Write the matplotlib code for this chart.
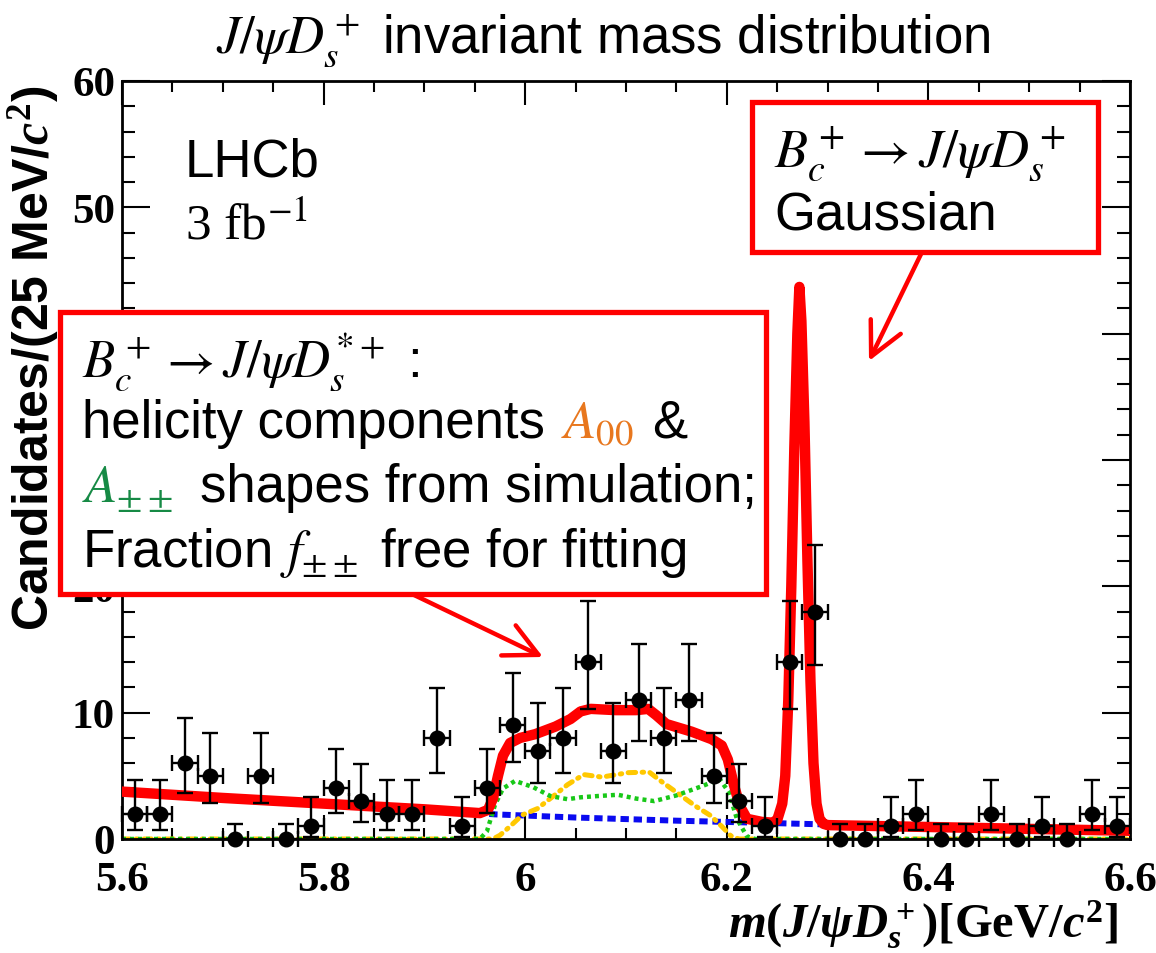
import numpy as np
import matplotlib
matplotlib.use("Agg")
import matplotlib.pyplot as plt
from matplotlib.patches import Rectangle, FancyArrowPatch
from matplotlib.ticker import MultipleLocator

# =========================================================
# Data
# =========================================================

mass_lo, mass_hi, bin_width = 5.6, 6.6, 0.025

counts = [2, 2, 6, 5, 0, 5, 0, 1, 4, 3,
          2, 2, 8, 1, 4, 9, 7, 8, 14, 7,
          11, 8, 11, 5, 3, 1, 14, 18, 0, 0,
          1, 2, 0, 0, 2, 0, 1, 0, 2, 1]

err_lo = [1.29, 1.29, 2.38, 2.16, 0, 2.16, 0, 0.83, 1.91, 1.63,
          1.29, 1.29, 2.77, 0.83, 1.91, 2.94, 2.58, 2.77, 3.70, 2.58,
          3.27, 2.77, 3.27, 2.16, 1.63, 0.83, 3.70, 4.21, 0, 0,
          0.83, 1.29, 0, 0, 1.29, 0, 0.83, 0, 1.29, 0.83]

err_hi = [2.64, 2.64, 3.58, 3.38, 1.15, 3.38, 1.15, 2.30, 3.16, 2.92,
          2.64, 2.64, 3.95, 2.30, 3.16, 4.11, 3.77, 3.95, 4.83, 3.77,
          4.42, 3.95, 4.42, 3.38, 2.92, 2.30, 4.83, 5.31, 1.15, 1.15,
          2.30, 2.64, 1.15, 1.15, 2.64, 1.15, 2.30, 1.15, 2.64, 2.30]

# total fit
fit_x = [5.600, 5.700, 5.800, 5.900, 5.955, 5.963, 5.968, 5.973, 5.978, 5.985,
         5.995, 6.010, 6.030, 6.045, 6.055, 6.065, 6.090, 6.110, 6.122, 6.130,
         6.140, 6.165, 6.185, 6.195, 6.201, 6.207, 6.213, 6.220, 6.235, 6.245,
         6.250, 6.255, 6.258, 6.261, 6.264, 6.267, 6.270, 6.272, 6.274, 6.277,
         6.280, 6.283, 6.286, 6.289, 6.292, 6.296, 6.300, 6.400, 6.500, 6.600]
fit_y = [3.75, 3.25, 2.80, 2.35, 2.05, 2.3, 3.2, 5.0, 6.6, 7.6,
         8.0, 8.3, 8.9, 9.5, 10.1, 10.3, 10.2, 10.2, 10.3, 9.8,
         9.1, 8.5, 7.9, 7.4, 6.3, 4.3, 2.6, 1.6, 1.35, 1.3,
         1.5, 2.8, 5.0, 11.0, 20.0, 31.0, 40.0, 43.7, 41.0, 33.0,
         22.0, 12.5, 6.0, 2.8, 1.6, 1.2, 1.1, 0.95, 0.80, 0.65]

# combinatorial background
bkg_x = [5.60, 5.70, 5.80, 5.90, 5.97, 6.05, 6.15, 6.25, 6.30, 6.40, 6.50, 6.60]
bkg_y = [3.75, 3.25, 2.80, 2.35, 1.95, 1.70, 1.45, 1.25, 1.15, 0.95, 0.80, 0.65]

# A_00 helicity component
a00_x = [5.600, 5.968, 5.975, 5.985, 5.997, 6.012, 6.028, 6.042, 6.058, 6.076,
         6.102, 6.123, 6.136, 6.150, 6.169, 6.184, 6.195, 6.204, 6.212, 6.600]
a00_y = [0, 0, 0.3, 1.0, 1.9, 2.4, 3.4, 4.3, 5.1, 4.9,
         5.25, 5.3, 4.5, 3.7, 2.6, 1.85, 1.0, 0.25, 0, 0]

# A_++ helicity component
app_x = [5.600, 5.955, 5.962, 5.970, 5.978, 5.990, 6.008, 6.025, 6.042, 6.055,
         6.072, 6.092, 6.110, 6.128, 6.150, 6.176, 6.193, 6.202, 6.210, 6.220,
         6.228, 6.600]
app_y = [0, 0, 0.6, 2.7, 4.0, 4.6, 4.1, 3.4, 3.15, 3.3,
         3.4, 3.5, 3.2, 3.0, 3.45, 4.2, 4.75, 3.7, 1.6, 0.2,
         0, 0]

xtick_vals = [5.6, 5.8, 6.0, 6.2, 6.4, 6.6]
xtick_labels = ["5.6", "5.8", "6", "6.2", "6.4", "6.6"]
# 30 and 40 sit behind the annotation box in the original
ytick_vals = [0, 10, 20, 30, 40, 50, 60]
ytick_labels = ["0", "10", "20", "", "", "50", "60"]

edges = np.arange(mass_lo, mass_hi + bin_width / 2, bin_width)
centers = edges[:-1] + bin_width / 2

# =========================================================
# Style
# =========================================================

W, H = 1156, 954

plt.rcParams["font.family"] = ["Liberation Sans", "DejaVu Sans"]
plt.rcParams["mathtext.fontset"] = "stix"
plt.rcParams["mathtext.rm"] = "Liberation Serif:bold"
plt.rcParams["mathtext.it"] = "Liberation Serif:italic:bold"
plt.rcParams["mathtext.bf"] = "Liberation Serif:bold"

RED = "#FF0000"


def fx(px):
    return px / W


def fy(py):
    return 1 - py / H


fig = plt.figure(figsize=(W / 100, H / 100), dpi=100)
ax = fig.add_axes([fx(122), fy(840), fx(1130) - fx(122), fy(82) - fy(840)])

# =========================================================
# Curves and data
# =========================================================

ax.plot(bkg_x, bkg_y, color="#0A0AF0", lw=4.3, dashes=(1.4, 0.8), zorder=2)
ax.plot(a00_x, a00_y, color="#FFC800", lw=3.6,
        dashes=(1.5, 1.3, 0.3, 1.3), dash_capstyle="round", zorder=2)
ax.plot(app_x, app_y, color="#18C818", lw=3.2, dashes=(0.9, 0.9), zorder=2)
ax.plot(fit_x, fit_y, color=RED, lw=7.5, solid_joinstyle="round", zorder=3)

eb = ax.errorbar(
    centers, counts,
    yerr=[err_lo, err_hi],
    xerr=bin_width / 2,
    fmt="o",
    color="black",
    ms=10.5,
    elinewidth=1.7,
    capsize=6,
    capthick=1.7,
    zorder=4
)
for art in eb.get_children():
    art.set_clip_on(False)

# =========================================================
# Axes
# =========================================================

ax.set_xlim(mass_lo, mass_hi)
ax.set_ylim(0, 60)

ax.set_xticks(xtick_vals)
ax.set_xticklabels(xtick_labels, fontfamily="Liberation Serif",
                   fontweight="bold")
ax.set_yticks(ytick_vals)
ax.set_yticklabels(ytick_labels, fontfamily="Liberation Serif",
                   fontweight="bold")
ax.xaxis.set_minor_locator(MultipleLocator(0.05))
ax.yaxis.set_minor_locator(MultipleLocator(2))

ax.tick_params(which="both", direction="in", top=True, right=True, width=1.5)
ax.tick_params(axis="x", which="major", length=17, pad=16, labelsize=31)
ax.tick_params(axis="x", which="minor", length=8)
ax.tick_params(axis="y", which="major", length=20, pad=5, labelsize=31)
ax.tick_params(axis="y", which="minor", length=9.5)

for sp in ax.spines.values():
    sp.set_linewidth(2)

fig.text(fx(1118), fy(938), r"$m(J/\psi D_s^+)$[GeV/$c^2$]",
         ha="right", va="baseline", fontsize=35,
         fontfamily="Liberation Serif", fontweight="bold",
         math_fontfamily="custom")

fig.text(fx(34), fy(86), r"Candidates/(25 MeV/$c^2$)",
         rotation=90, ha="center", va="top", fontsize=36,
         fontweight="bold", math_fontfamily="custom")

fig.text(fx(603), fy(53), r"$J/\psi D_s^+$ invariant mass distribution",
         ha="center", va="baseline", fontsize=38)

fig.text(fx(185), fy(177), "LHCb", fontsize=38, va="baseline")
fig.text(fx(185), fy(240), r"3 fb$^{-1}$", fontsize=37,
         fontfamily="Liberation Serif", va="baseline")

# =========================================================
# Annotation boxes
# =========================================================

box1 = Rectangle((fx(752), fy(253)), fx(1098) - fx(752), fy(103) - fy(253),
                 transform=fig.transFigure, facecolor="white",
                 edgecolor=RED, lw=3.8, zorder=5)
fig.add_artist(box1)

box2 = Rectangle((fx(60), fy(595)), fx(766) - fx(60), fy(313) - fy(595),
                 transform=fig.transFigure, facecolor="white",
                 edgecolor=RED, lw=3.8, zorder=5)
fig.add_artist(box2)

for start, end in [((922, 253), (869, 362)), ((412, 595), (543, 658))]:
    arr = FancyArrowPatch(
        (fx(start[0]), fy(start[1])),
        (fx(end[0]), fy(end[1])),
        transform=fig.transFigure,
        arrowstyle="->,head_length=0.8,head_width=0.4",
        mutation_scale=30,
        color=RED,
        lw=3.2,
        shrinkA=0,
        shrinkB=0,
        zorder=4.5
    )
    fig.add_artist(arr)

fig.text(fx(774), fy(167), r"$B_c^+ \to J/\psi D_s^+$",
         fontsize=39, va="baseline", zorder=6)
fig.text(fx(774), fy(230), "Gaussian", fontsize=38, va="baseline", zorder=6)

renderer = fig.canvas.get_renderer()


def text_row(pieces, x0, y0, size=38):
    x = x0
    for s, color, gap in pieces:
        t = fig.text(fx(x), fy(y0), s, color=color, fontsize=size,
                     va="baseline", zorder=6)
        x = t.get_window_extent(renderer).x1 + gap


text_row([(r"$B_c^+ \to J/\psi D_s^{*+}$ :", "black", 0)], 82, 377)
text_row([("helicity components", "black", 16),
          (r"$A_{00}$", "#E8771E", 18),
          ("&", "black", 0)], 82, 438)
text_row([(r"$A_{\pm\pm}$", "#168A45", 27),
          ("shapes from simulation;", "black", 0)], 82, 502)
text_row([(r"Fraction $f_{\pm\pm}$ free for fitting", "black", 0)], 82, 567)

fig.savefig("out.png", dpi=100)
